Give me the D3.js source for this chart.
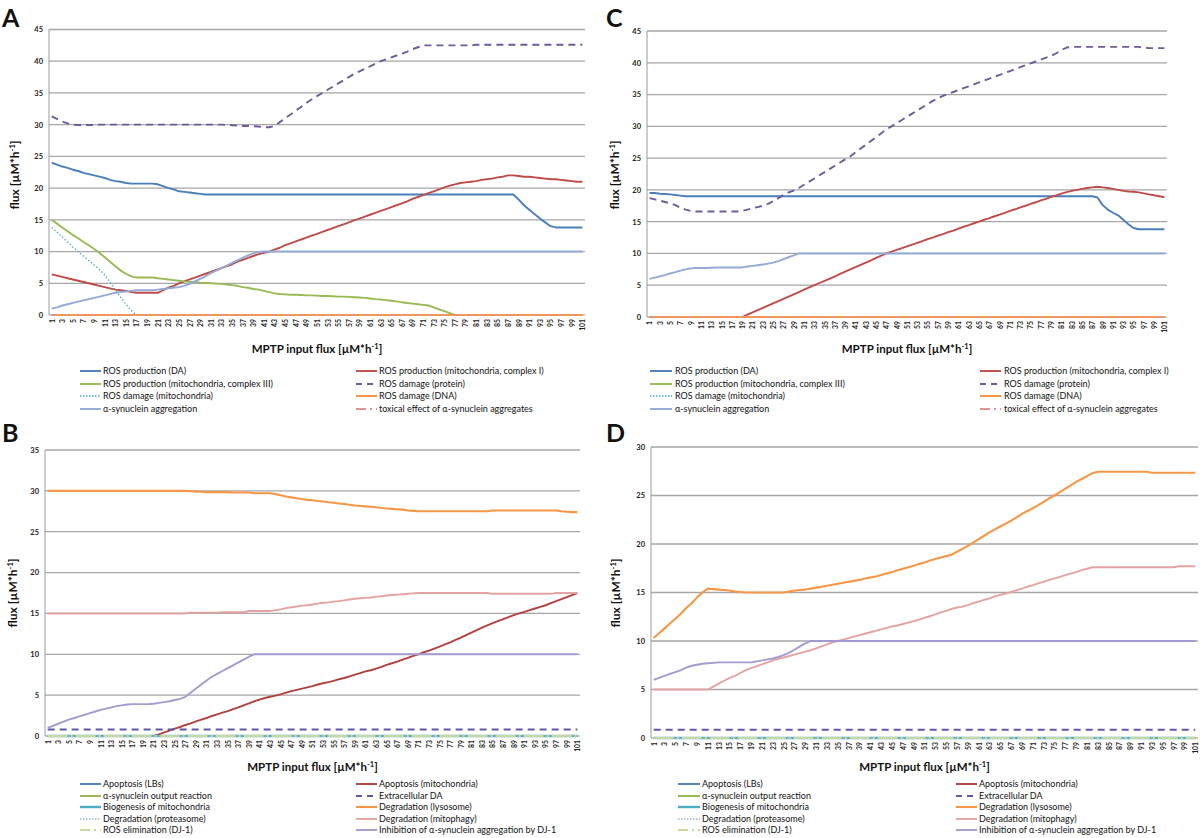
<!DOCTYPE html>
<html><head><meta charset="utf-8">
<script src="https://cdn.jsdelivr.net/npm/d3@7/dist/d3.min.js"></script>
<style>body{margin:0;background:#fff}svg{display:block}text{font-family:Lato,"Open Sans",sans-serif}</style>
</head><body>
<script>
// ---------------- DATA ----------------
const xCategories = [1,2,3,4,5,6,7,8,9,10,11,12,13,14,15,16,17,18,19,20,21,22,23,24,25,26,27,28,29,30,31,32,33,34,35,36,37,38,39,40,41,42,43,44,45,46,47,48,49,50,51,52,53,54,55,56,57,58,59,60,61,62,63,64,65,66,67,68,69,70,71,72,73,74,75,76,77,78,79,80,81,82,83,84,85,86,87,88,89,90,91,92,93,94,95,96,97,98,99,100,101];
const xTickLabels = [1,3,5,7,9,11,13,15,17,19,21,23,25,27,29,31,33,35,37,39,41,43,45,47,49,51,53,55,57,59,61,63,65,67,69,71,73,75,77,79,81,83,85,87,89,91,93,95,97,99,101];
const fluxTicksA = [0,5,10,15,20,25,30,35,40,45];
const fluxTicksB = [0,5,10,15,20,25,30,35];
const fluxTicksC = [0,5,10,15,20,25,30,35,40,45];
const fluxTicksD = [0,5,10,15,20,25,30];

const zeroFlux = [0,0,0,0,0,0,0,0,0,0, 0,0,0,0,0,0,0,0,0,0, 0,0,0,0,0,0,0,0,0,0, 0,0,0,0,0,0,0,0,0,0, 0,0,0,0,0,0,0,0,0,0,
 0,0,0,0,0,0,0,0,0,0, 0,0,0,0,0,0,0,0,0,0, 0,0,0,0,0,0,0,0,0,0, 0,0,0,0,0,0,0,0,0,0, 0,0,0,0,0,0,0,0,0,0, 0];

// Panel A
const A_rosDA = [24.0,23.7,23.4,23.2,22.9,22.7,22.4,22.2,22.0,21.8,
 21.6,21.3,21.1,21.0,20.8,20.7,20.7,20.7,20.7,20.7,
 20.6,20.3,20.0,19.8,19.5,19.4,19.3,19.2,19.1,19.0,
 19,19,19,19,19,19,19,19,19,19, 19,19,19,19,19,19,19,19,19,19,
 19,19,19,19,19,19,19,19,19,19, 19,19,19,19,19,19,19,19,19,19,
 19,19,19,19,19,19,19,19,19,19,
 19,19,19,19,19,19,19,19,18.2,17.3,
 16.6,15.9,15.2,14.6,14.0,13.8,13.8,13.8,13.8,13.8, 13.8];
const A_complexI = [6.4,6.2,6.0,5.8,5.6,5.4,5.2,5.0,4.8,4.6,
 4.4,4.2,4.0,3.9,3.8,3.6,3.5,3.5,3.5,3.5,
 3.5,3.9,4.3,4.6,5.0,5.3,5.6,5.9,6.2,6.5,
 6.8,7.1,7.4,7.7,8.0,8.4,8.7,9.0,9.3,9.6,
 9.8,10.0,10.3,10.6,11.0,11.3,11.6,11.9,12.2,12.5,
 12.8,13.1,13.4,13.7,14.0,14.3,14.6,14.9,15.2,15.5,
 15.8,16.1,16.4,16.7,17.0,17.3,17.6,17.9,18.3,18.6,
 18.9,19.2,19.5,19.8,20.1,20.4,20.6,20.8,20.9,21.0,
 21.1,21.3,21.4,21.5,21.7,21.8,22.0,22.0,21.9,21.8,
 21.8,21.7,21.6,21.5,21.4,21.4,21.3,21.2,21.1,21.0, 21.0];
const A_complexIII = [15.0,14.4,13.8,13.2,12.6,12.1,11.5,11.0,10.4,9.8,
 9.1,8.4,7.7,7.0,6.5,6.1,5.9,5.9,5.9,5.9,
 5.8,5.7,5.6,5.5,5.4,5.3,5.25,5.2,5.1,5.05,
 5.0,4.95,4.9,4.8,4.7,4.6,4.4,4.3,4.1,4.0,
 3.8,3.6,3.4,3.3,3.25,3.2,3.2,3.15,3.1,3.1,
 3.05,3.0,3.0,2.95,2.9,2.9,2.85,2.8,2.75,2.7,
 2.6,2.5,2.45,2.35,2.25,2.15,2.0,1.9,1.8,1.7,
 1.6,1.5,1.2,0.9,0.6,0.3,0,0,0,0,
 0,0,0,0,0,0,0,0,0,0, 0,0,0,0,0,0,0,0,0,0, 0];
const A_dmgProtein = [31.3,30.9,30.5,30.2,30.0,29.95,29.95,29.95,29.95,30.0,
 30,30,30,30,30,30,30,30,30,30, 30,30,30,30,30,30,30,30,30,30,
 30,30,30,29.95,29.9,29.85,29.8,29.8,29.75,29.7,
 29.6,29.6,29.8,30.4,31.0,31.6,32.2,32.8,33.4,34.0,
 34.5,35.0,35.5,36.0,36.5,37.0,37.5,38.0,38.4,38.8,
 39.2,39.6,40.0,40.3,40.6,40.9,41.2,41.5,41.9,42.2,
 42.5,42.5,42.5,42.5,42.5,42.5,42.5,42.5,42.5,42.5,
 42.6,42.6,42.6,42.6,42.6,42.6,42.6,42.6,42.6,42.6,
 42.6,42.6,42.6,42.6,42.6,42.6,42.6,42.6,42.6,42.6, 42.6];
const A_dmgMito = [13.8,13.1,12.3,11.5,10.7,10.0,9.3,8.6,7.9,7.2,
 6.3,5.2,4.0,2.8,1.7,0.7,0,0,0,0,
 0,0,0,0,0,0,0,0,0,0, 0,0,0,0,0,0,0,0,0,0, 0,0,0,0,0,0,0,0,0,0, 0,0,0,0,0,0,0,0,0,0,
 0,0,0,0,0,0,0,0,0,0, 0,0,0,0,0,0,0,0,0,0, 0,0,0,0,0,0,0,0,0,0, 0,0,0,0,0,0,0,0,0,0, 0];
const A_dmgDNA = zeroFlux;
const A_asynAggr = [1.0,1.2,1.5,1.7,1.9,2.1,2.3,2.5,2.7,2.9,
 3.1,3.3,3.5,3.6,3.7,3.8,3.9,3.9,3.9,3.9,
 4.0,4.1,4.2,4.3,4.4,4.6,4.9,5.3,5.7,6.1,
 6.6,7.0,7.4,7.8,8.2,8.6,9.0,9.4,9.7,9.95,
 10,10,10,10,10,10,10,10,10,10, 10,10,10,10,10,10,10,10,10,10,
 10,10,10,10,10,10,10,10,10,10, 10,10,10,10,10,10,10,10,10,10,
 10,10,10,10,10,10,10,10,10,10, 10,10,10,10,10,10,10,10,10,10, 10];
const A_toxic = zeroFlux;

// Panel B
const B_apoLBs = zeroFlux;
const B_asynOutput = zeroFlux;
const B_biogenesis = zeroFlux;
const B_proteasome = zeroFlux;
const B_rosElim = zeroFlux;
const B_apoMito = [0,0,0,0,0,0,0,0,0,0, 0,0,0,0,0,0,0,0,0,0,
 0,0.2,0.45,0.65,0.9,1.1,1.35,1.55,1.8,2.0,
 2.2,2.45,2.65,2.85,3.05,3.3,3.5,3.75,4.0,4.25,
 4.45,4.65,4.8,4.95,5.1,5.3,5.5,5.65,5.8,5.95,
 6.1,6.3,6.45,6.6,6.75,6.95,7.1,7.3,7.5,7.7,
 7.9,8.05,8.25,8.45,8.7,8.9,9.1,9.35,9.55,9.8,
 10.0,10.25,10.45,10.7,10.95,11.2,11.45,11.75,12.05,12.35,
 12.65,12.95,13.25,13.55,13.8,14.05,14.3,14.55,14.8,15.0,
 15.2,15.4,15.6,15.8,16.0,16.25,16.5,16.75,17.0,17.25, 17.5];
const B_extDA = [0.8,0.8,0.8,0.8,0.8,0.8,0.8,0.8,0.8,0.8, 0.8,0.8,0.8,0.8,0.8,0.8,0.8,0.8,0.8,0.8,
 0.8,0.8,0.8,0.8,0.8,0.8,0.8,0.8,0.8,0.8, 0.8,0.8,0.8,0.8,0.8,0.8,0.8,0.8,0.8,0.8,
 0.8,0.8,0.8,0.8,0.8,0.8,0.8,0.8,0.8,0.8, 0.8,0.8,0.8,0.8,0.8,0.8,0.8,0.8,0.8,0.8,
 0.8,0.8,0.8,0.8,0.8,0.8,0.8,0.8,0.8,0.8, 0.8,0.8,0.8,0.8,0.8,0.8,0.8,0.8,0.8,0.8,
 0.8,0.8,0.8,0.8,0.8,0.8,0.8,0.8,0.8,0.8, 0.8,0.8,0.8,0.8,0.8,0.8,0.8,0.8,0.8,0.8, 0.8];
const B_lysosome = [30,30,30,30,30,30,30,30,30,30, 30,30,30,30,30,30,30,30,30,30,
 30,30,30,30,30,30,30,29.95,29.9,29.9,
 29.85,29.85,29.85,29.85,29.85,29.8,29.8,29.8,29.8,29.7,
 29.7,29.7,29.7,29.6,29.45,29.3,29.2,29.1,29.0,28.9,
 28.85,28.75,28.7,28.6,28.55,28.45,28.4,28.3,28.2,28.15,
 28.1,28.05,28.0,27.9,27.85,27.8,27.75,27.7,27.6,27.55,
 27.5,27.5,27.5,27.5,27.5,27.5,27.5,27.5,27.5,27.5,
 27.5,27.5,27.5,27.5,27.6,27.6,27.6,27.6,27.6,27.6,
 27.6,27.6,27.6,27.6,27.6,27.6,27.6,27.5,27.45,27.4, 27.4];
const B_mitophagy = [15,15,15,15,15,15,15,15,15,15, 15,15,15,15,15,15,15,15,15,15,
 15,15,15,15,15,15,15,15.1,15.1,15.1,
 15.1,15.1,15.1,15.15,15.15,15.15,15.15,15.15,15.3,15.3,
 15.3,15.3,15.3,15.4,15.5,15.65,15.75,15.85,15.95,16.0,
 16.1,16.2,16.3,16.35,16.45,16.5,16.6,16.7,16.8,16.85,
 16.9,16.95,17.05,17.1,17.2,17.25,17.3,17.35,17.4,17.45,
 17.5,17.5,17.5,17.5,17.5,17.5,17.5,17.5,17.5,17.5,
 17.5,17.5,17.5,17.5,17.4,17.4,17.4,17.4,17.4,17.4,
 17.4,17.4,17.4,17.4,17.4,17.4,17.5,17.5,17.5,17.5, 17.5];
const B_inhibDJ1 = [1.0,1.25,1.5,1.75,2.0,2.2,2.4,2.6,2.8,3.0,
 3.2,3.35,3.5,3.65,3.75,3.85,3.9,3.9,3.9,3.9,
 3.95,4.05,4.15,4.25,4.4,4.55,4.8,5.3,5.8,6.3,
 6.8,7.25,7.6,7.95,8.3,8.65,9.0,9.35,9.7,10.0,
 10,10,10,10,10,10,10,10,10,10, 10,10,10,10,10,10,10,10,10,10,
 10,10,10,10,10,10,10,10,10,10, 10,10,10,10,10,10,10,10,10,10,
 10,10,10,10,10,10,10,10,10,10, 10,10,10,10,10,10,10,10,10,10, 10];

// Panel C
const C_rosDA = [19.5,19.5,19.4,19.35,19.3,19.2,19.1,19.0,19.0,19.0,
 19,19,19,19,19,19,19,19,19,19, 19,19,19,19,19,19,19,19,19,19,
 19,19,19,19,19,19,19,19,19,19, 19,19,19,19,19,19,19,19,19,19,
 19,19,19,19,19,19,19,19,19,19, 19,19,19,19,19,19,19,19,19,19,
 19,19,19,19,19,19,19,19,19,19,
 19,19,19,19,19,19,19,18.8,17.6,16.9,
 16.4,16.0,15.3,14.6,14.0,13.8,13.8,13.8,13.8,13.8, 13.8];
const C_complexI = [0,0,0,0,0,0,0,0,0,0,
 0,0,0,0,0,0,0,0,0,0.36,
 0.72,1.08,1.44,1.8,2.15,2.5,2.85,3.2,3.55,3.9,
 4.3,4.65,5.0,5.35,5.7,6.05,6.4,6.8,7.15,7.5,
 7.85,8.2,8.55,8.9,9.3,9.65,10.0,10.3,10.55,10.85,
 11.1,11.4,11.65,11.95,12.25,12.5,12.8,13.05,13.35,13.6,
 13.9,14.2,14.45,14.75,15.0,15.3,15.55,15.85,16.1,16.4,
 16.7,16.95,17.25,17.5,17.8,18.05,18.35,18.6,18.9,19.15,
 19.4,19.65,19.85,20.0,20.15,20.3,20.4,20.5,20.4,20.3,
 20.15,20.0,19.85,19.75,19.7,19.6,19.45,19.3,19.15,19.0, 18.85];
const C_complexIII = zeroFlux;
const C_dmgProtein = [18.7,18.5,18.3,18.1,17.9,17.6,17.2,16.9,16.7,16.6,
 16.6,16.6,16.6,16.6,16.6,16.6,16.6,16.6,16.7,16.9,
 17.1,17.3,17.5,17.8,18.2,18.7,19.2,19.6,19.9,20.3,
 20.8,21.3,21.8,22.3,22.8,23.3,23.8,24.3,24.8,25.3,
 25.9,26.5,27.1,27.7,28.3,28.9,29.5,30.0,30.5,31.0,
 31.5,32.0,32.5,33.0,33.5,34.0,34.4,34.8,35.1,35.4,
 35.7,36.0,36.3,36.6,36.9,37.2,37.5,37.8,38.1,38.4,
 38.7,39.0,39.3,39.6,39.9,40.2,40.5,40.8,41.1,41.5,
 42.0,42.4,42.5,42.5,42.5,42.5,42.5,42.5,42.5,42.5,
 42.5,42.5,42.5,42.5,42.5,42.5,42.4,42.3,42.3,42.3, 42.3];
const C_dmgMito = zeroFlux;
const C_dmgDNA = zeroFlux;
const C_asynAggr = [6.0,6.2,6.4,6.6,6.85,7.05,7.3,7.5,7.65,7.7,
 7.7,7.7,7.75,7.8,7.8,7.8,7.8,7.8,7.8,7.95,
 8.05,8.15,8.25,8.4,8.55,8.8,9.1,9.4,9.7,10.0,
 10,10,10,10,10,10,10,10,10,10, 10,10,10,10,10,10,10,10,10,10,
 10,10,10,10,10,10,10,10,10,10, 10,10,10,10,10,10,10,10,10,10,
 10,10,10,10,10,10,10,10,10,10, 10,10,10,10,10,10,10,10,10,10,
 10,10,10,10,10,10,10,10,10,10, 10];
const C_toxic = zeroFlux;

// Panel D
const D_apoLBs = zeroFlux;
const D_asynOutput = zeroFlux;
const D_biogenesis = zeroFlux;
const D_proteasome = zeroFlux;
const D_rosElim = zeroFlux;
const D_apoMito = zeroFlux;
const D_extDA = [0.85,0.85,0.85,0.85,0.85,0.85,0.85,0.85,0.85,0.85, 0.85,0.85,0.85,0.85,0.85,0.85,0.85,0.85,0.85,0.85,
 0.85,0.85,0.85,0.85,0.85,0.85,0.85,0.85,0.85,0.85, 0.85,0.85,0.85,0.85,0.85,0.85,0.85,0.85,0.85,0.85,
 0.85,0.85,0.85,0.85,0.85,0.85,0.85,0.85,0.85,0.85, 0.85,0.85,0.85,0.85,0.85,0.85,0.85,0.85,0.85,0.85,
 0.85,0.85,0.85,0.85,0.85,0.85,0.85,0.85,0.85,0.85, 0.85,0.85,0.85,0.85,0.85,0.85,0.85,0.85,0.85,0.85,
 0.85,0.85,0.85,0.85,0.85,0.85,0.85,0.85,0.85,0.85, 0.85,0.85,0.85,0.85,0.85,0.85,0.85,0.85,0.85,0.85, 0.85];
const D_lysosome = [10.3,10.8,11.3,11.8,12.3,12.8,13.4,13.9,14.5,15.0,
 15.4,15.35,15.3,15.25,15.2,15.1,15.05,15.0,15.0,15.0,
 15.0,15.0,15.0,15.0,15.0,15.1,15.2,15.25,15.3,15.4,
 15.5,15.6,15.7,15.8,15.9,16.0,16.1,16.2,16.3,16.45,
 16.55,16.65,16.8,16.95,17.1,17.3,17.45,17.6,17.75,17.95,
 18.1,18.3,18.45,18.6,18.75,18.9,19.2,19.5,19.8,20.15,
 20.5,20.85,21.2,21.5,21.8,22.1,22.4,22.75,23.1,23.4,
 23.7,24.0,24.35,24.7,25.0,25.35,25.7,26.05,26.4,26.7,
 27.0,27.3,27.45,27.45,27.45,27.45,27.45,27.45,27.45,27.45,
 27.45,27.45,27.35,27.35,27.35,27.35,27.35,27.35,27.35,27.35, 27.35];
const D_mitophagy = [5,5,5,5,5,5,5,5,5,5,
 5.0,5.3,5.6,5.9,6.2,6.4,6.7,7.0,7.2,7.4,
 7.6,7.8,8.0,8.15,8.3,8.45,8.6,8.75,8.9,9.05,
 9.25,9.45,9.65,9.85,10.0,10.15,10.3,10.45,10.6,10.75,
 10.9,11.05,11.2,11.35,11.5,11.6,11.75,11.9,12.05,12.2,
 12.4,12.55,12.75,12.95,13.1,13.3,13.45,13.55,13.7,13.9,
 14.05,14.25,14.4,14.6,14.75,14.9,15.05,15.25,15.4,15.6,
 15.75,15.95,16.1,16.3,16.45,16.6,16.8,16.95,17.1,17.3,
 17.45,17.6,17.6,17.6,17.6,17.6,17.6,17.6,17.6,17.6,
 17.6,17.6,17.6,17.6,17.6,17.6,17.6,17.7,17.7,17.7, 17.7];
const D_inhibDJ1 = [6.0,6.2,6.4,6.6,6.8,7.0,7.25,7.45,7.55,7.65,
 7.7,7.75,7.8,7.8,7.8,7.8,7.8,7.8,7.8,7.9,
 8.0,8.1,8.2,8.35,8.55,8.8,9.1,9.45,9.75,10.0,
 10,10,10,10,10,10,10,10,10,10, 10,10,10,10,10,10,10,10,10,10,
 10,10,10,10,10,10,10,10,10,10, 10,10,10,10,10,10,10,10,10,10,
 10,10,10,10,10,10,10,10,10,10, 10,10,10,10,10,10,10,10,10,10,
 10,10,10,10,10,10,10,10,10,10, 10];

const rosNames = ["ROS production (DA)","ROS production (mitochondria, complex I)","ROS production (mitochondria, complex III)","ROS damage (protein)","ROS damage (mitochondria)","ROS damage (DNA)","α-synuclein aggregation","toxical effect of α-synuclein aggregates"];
const degNames = ["Apoptosis (LBs)","Apoptosis (mitochondria)","α-synuclein output reaction","Extracellular DA","Biogenesis of mitochondria","Degradation (lysosome)","Degradation (proteasome)","Degradation (mitophagy)","ROS elimination (DJ-1)","Inhibition of α-synuclein aggregation by DJ-1"];

// ---------------- STYLES ----------------
// d: dash pattern on the plot, ld: dash pattern of the legend sample
const rosStyles = [
  {c:"#4a7ebb", w:1.9},
  {c:"#be4b48", w:1.9},
  {c:"#98b954", w:1.9},
  {c:"#6f5a9c", w:1.9, d:"7,5", ld:"6,5"},
  {c:"#4bacc6", w:1.3, d:"1.5,2", ld:"1.5,1.5"},
  {c:"#f79646", w:2.1},
  {c:"#93a9d8", w:1.9},
  {c:"#d99694", w:1.9, d:"4,9", ld:"10,4,2,4"}
];
const degStyles = [
  {c:"#4a7ebb", w:1.9},
  {c:"#b0413e", w:1.9},
  {c:"#98b954", w:2},
  {c:"#5f58a8", w:1.9, d:"7,5", ld:"6,5"},
  {c:"#4bacc6", w:2.4},
  {c:"#f79646", w:2.1},
  {c:"#95b3d7", w:1.3, d:"1.5,2", ld:"1.5,1.5"},
  {c:"#e3a3a1", w:1.9},
  {c:"#c6d89e", w:2.1, d:"20,3,2,3", ld:"10,4,2,4"},
  {c:"#a29bcf", w:1.9}
];

const panels = [
  {label:"A", lx:2, ly:27, left:49, right:585, top:29.5, bottom:315, max:45, ticks:fluxTicksA,
   ytx:19, yty:175, titleY:353, rows:[371,384,396,409],
   col1:[80,101,103], col2:[356,377,379], names:rosNames, styles:rosStyles,
   data:[A_rosDA,A_complexI,A_complexIII,A_dmgProtein,A_dmgMito,A_dmgDNA,A_asynAggr,A_toxic],
   legendL:[0,2,4,6], legendR:[1,3,5,7]},
  {label:"B", lx:2, ly:442, left:45, right:580, top:450, bottom:736, max:35, ticks:fluxTicksB,
   ytx:17, yty:593, titleY:771, rows:[784,796,807,819,830],
   col1:[80,101,103], col2:[356,377,379], names:degNames, styles:degStyles,
   data:[B_apoLBs,B_apoMito,B_asynOutput,B_extDA,B_biogenesis,B_lysosome,B_proteasome,B_mitophagy,B_rosElim,B_inhibDJ1],
   legendL:[0,2,4,6,8], legendR:[1,3,5,7,9]},
  {label:"C", lx:606, ly:27, left:647, right:1167, top:31, bottom:317, max:45, ticks:fluxTicksC,
   ytx:619, yty:175, titleY:353, rows:[371,384,396,409],
   col1:[650,672,675], col2:[980,1001,1004], names:rosNames, styles:rosStyles,
   data:[C_rosDA,C_complexI,C_complexIII,C_dmgProtein,C_dmgMito,C_dmgDNA,C_asynAggr,C_toxic],
   legendL:[0,2,4,6], legendR:[1,3,5,7]},
  {label:"D", lx:606, ly:442, left:651, right:1198, top:447, bottom:738, max:30, ticks:fluxTicksD,
   ytx:620, yty:593, titleY:771, rows:[784,796,807,819,830],
   col1:[678,700,702], col2:[956,977,979], names:degNames, styles:degStyles,
   data:[D_apoLBs,D_apoMito,D_asynOutput,D_extDA,D_biogenesis,D_lysosome,D_proteasome,D_mitophagy,D_rosElim,D_inhibDJ1],
   legendL:[0,2,4,6,8], legendR:[1,3,5,7,9]}
];

// ---------------- DRAW ----------------
const svg = d3.select("body").append("svg").attr("width",1200).attr("height",838);

function drawPanel(p){
  const g = svg.append("g");
  const x = d3.scalePoint().domain(xCategories).range([p.left,p.right]).padding(0.5);
  const y = d3.scaleLinear().domain([0,p.max]).range([p.bottom,p.top]);

  g.append("g").selectAll("line").data(p.ticks.filter(t=>t>0)).join("line")
    .attr("x1",p.left).attr("x2",p.right).attr("y1",d=>y(d)).attr("y2",d=>y(d))
    .attr("stroke","#a6a6a6").attr("stroke-width",1.3);

  const ya = g.append("g").attr("transform",`translate(${p.left},0)`)
    .call(d3.axisLeft(y).tickValues(p.ticks).tickSize(0).tickPadding(6).tickFormat(d3.format("d")));
  ya.select(".domain").remove();
  ya.selectAll("text").attr("font-size",7.5).attr("fill","#222").attr("font-weight",700);
  g.append("line").attr("x1",p.left).attr("x2",p.left).attr("y1",p.top).attr("y2",p.bottom)
    .attr("stroke","#9a9a9a").attr("stroke-width",1);
  g.append("line").attr("x1",p.left).attr("x2",p.right).attr("y1",p.bottom).attr("y2",p.bottom)
    .attr("stroke","#9a9a9a").attr("stroke-width",1);

  const xa = g.append("g").attr("transform",`translate(0,${p.bottom})`)
    .call(d3.axisBottom(x).tickValues(xTickLabels).tickSize(0));
  xa.select(".domain").remove();
  xa.selectAll("text").attr("font-size",6.8).attr("fill","#222").attr("font-weight",700)
    .attr("transform","rotate(-90)").attr("text-anchor","end")
    .attr("x",-4).attr("y",0).attr("dy","0.35em");

  // series, drawn in legend (series) order
  const line = d3.line().x((d,i)=>x(xCategories[i])).y(d=>y(d));
  p.data.forEach((vals,k)=>{
    const s = p.styles[k];
    g.append("path").datum(vals).attr("d",line).attr("fill","none")
      .attr("stroke",s.c).attr("stroke-width",s.w).attr("stroke-dasharray",s.d||null)
      .attr("stroke-linejoin","round");
  });

  svg.append("text").attr("x",p.lx).attr("y",p.ly).text(p.label)
    .attr("font-family","'Liberation Sans',Arial,sans-serif").attr("font-weight",700).attr("font-size",25).attr("fill","#111");

  const yt = svg.append("text").attr("transform",`translate(${p.ytx},${p.yty}) rotate(-90)`)
    .attr("text-anchor","middle").attr("font-weight",700).attr("font-size",12).attr("fill","#111");
  yt.append("tspan").text("flux [µM*h");
  yt.append("tspan").text("-1").attr("font-size",7.5).attr("dy",-4.5);
  yt.append("tspan").text("]").attr("dy",4.5);

  const xt = svg.append("text").attr("x",(p.left+p.right)/2).attr("y",p.titleY)
    .attr("text-anchor","middle").attr("font-weight",700).attr("font-size",11.5).attr("fill","#111");
  xt.append("tspan").text("MPTP input flux [µM*h");
  xt.append("tspan").text("-1").attr("font-size",7.5).attr("dy",-4);
  xt.append("tspan").text("]").attr("dy",4);

  const lg = svg.append("g");
  function item(k, col, row){
    const s = p.styles[k];
    const yy = p.rows[row];
    lg.append("line").attr("x1",col[0]).attr("x2",col[1]).attr("y1",yy).attr("y2",yy)
      .attr("stroke",s.c).attr("stroke-width",Math.max(1.7,s.w)).attr("stroke-dasharray",s.ld||null);
    lg.append("text").attr("x",col[2]).attr("y",yy).attr("dy","0.35em").text(p.names[k])
      .attr("font-size",9).attr("fill","#111");
  }
  p.legendL.forEach((k,r)=>item(k,p.col1,r));
  p.legendR.forEach((k,r)=>item(k,p.col2,r));
}
panels.forEach(drawPanel);
</script>
</body></html>
